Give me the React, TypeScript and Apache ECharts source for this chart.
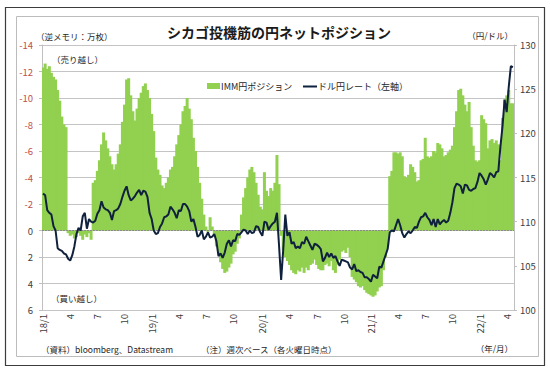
import React, { useEffect, useRef } from "react";
import * as echarts from "echarts";

// IMM yen net position (10k contracts, negative = net short), weekly (Tuesdays)
const imm2018 = [
  -12.3, -12.6, -12.2, -12.4, -11.9, -11.6, -11.4, -10.6, -9.8, -8.6, -8.0, -7.8,
  0.2, 0.4, 0.3, 0.6, 0.5, 0.2, 0.4, 0.7, 0.3, 0.5, 0.2, 0.7,
  -3.6, -3.8, -4.5, -5.3, -6.5, -7.4, -6.8, -6.2, -5.6, -5.0, -4.6, -5.0,
  -5.8, -6.5, -8.2, -9.5, -11.4, -11.5, -10.2, -9.0, -8.3, -9.2, -10.0, -10.4,
  -10.9, -11.1, -10.6, -10.0,
];
const imm2019 = [
  -8.8, -7.5, -5.5, -4.6, -4.2, -3.4, -3.2, -3.6, -4.0, -4.6, -4.8, -5.6,
  -6.5, -7.2, -8.0, -9.0, -9.4, -10.0, -9.2, -8.4, -7.0, -6.0, -4.8, -3.6,
  -2.4, -1.2, -0.3, 0.1, -1.0, -0.3, 0.4, 1.2, 1.8, 2.4, 2.9, 3.2,
  3.1, 2.8, 2.5, 1.8, 1.6, 1.0, 0.6, -1.2, -2.5, -3.2, -4.0, -4.6,
  -4.8, -4.4, -3.6, -2.7, -1.8,
];
const imm2020 = [
  -1.6, -4.4, -3.0, -2.6, -3.2, -3.0, -3.6, -5.7, -3.5, 0.4, 1.5, 2.0,
  2.3, 2.6, 3.0, 3.2, 3.3, 3.0, 3.1, 2.8, 3.2, 2.8, 3.0, 2.6,
  2.5, 2.2, 2.6, 2.9, 3.0, 3.0, 2.6, 2.5, 2.7, 2.3, 3.0, 3.2,
  2.6, 2.2, 1.6, 1.5, 1.7, 1.3, 2.0, 3.5, 3.7, 3.9, 4.2, 4.3,
  4.2, 4.5, 4.7, 4.8,
];
const imm2021 = [
  4.9, 5.0, 4.9, 4.6, 4.3, 4.2, 3.0, 2.0, 1.2, -4.1, -4.5, -5.9,
  -5.9, -5.8, -5.9, -5.6, -4.1, -4.0, -4.2, -5.0, -4.8, -4.4, -3.7, -3.8,
  -5.3, -5.4, -7.0, -5.6, -5.5, -5.6, -6.0, -5.9, -6.6, -6.5, -6.2, -5.6,
  -5.7, -5.9, -6.1, -6.4, -7.8, -9.0, -10.6, -10.7, -10.2, -9.5, -9.0, -9.7,
  -7.8, -6.4, -5.3, -5.2,
];
const imm2022 = [
  -5.3, -8.7, -8.4, -8.1, -6.2, -6.8, -6.9, -6.6, -6.8, -6.5, -5.3, -8.5,
  -9.9, -10.2, -10.6, -9.6, -9.6,
];

// USD/JPY rate (yen per dollar), weekly (Tuesdays)
const usd2018 = [
  113.2, 113.0, 111.3, 111.0, 110.8, 109.5, 109.0, 107.0, 106.8, 106.7, 106.4, 106.3,
  105.8, 105.6, 106.2, 107.2, 108.6, 109.3, 109.0, 110.6, 111.0, 109.2, 110.3, 110.0,
  109.9, 110.1, 110.9, 111.3, 112.3, 111.6, 111.4, 111.3, 111.0, 110.2, 111.2, 111.3,
  111.5, 112.0, 112.8, 113.5, 114.0, 113.0, 112.4, 112.6, 112.9, 113.3, 113.6, 113.0,
  113.5, 113.4, 112.8, 111.0,
];
const usd2019 = [
  110.3, 109.0, 108.6, 108.7, 109.4, 109.8, 110.5, 110.6, 110.8, 111.7, 111.4, 111.0,
  110.4, 111.3, 111.2, 112.0, 112.0, 111.7, 111.2, 110.0, 110.3, 109.4, 108.3, 108.5,
  109.0, 108.0, 108.3, 108.8, 108.2, 108.3, 108.6, 107.8, 106.1, 106.4, 105.9, 106.5,
  107.5, 107.9, 107.2, 107.9, 107.8, 108.6, 108.5, 108.8, 109.1, 109.0, 108.6, 109.0,
  108.7, 108.8, 109.5, 109.4, 108.8,
];
const usd2020 = [
  108.4, 110.0, 109.9, 109.1, 109.5, 109.8, 110.0, 111.0, 107.3, 103.4, 106.8, 110.8,
  108.4, 108.8, 107.5, 107.7, 107.0, 107.2, 107.0, 107.7, 107.5, 108.3, 107.8, 107.3,
  106.8, 107.5, 107.4, 107.2, 106.9, 105.5, 105.9, 106.5, 106.0, 106.4, 105.9, 106.1,
  105.5, 105.0, 105.7, 105.6, 105.5, 105.4, 104.8, 104.6, 105.2, 104.4, 104.5, 104.3,
  104.2, 103.7, 103.7, 103.5,
];
const usd2021 = [
  103.2, 104.0, 103.8, 103.6, 104.9, 104.8, 105.5, 106.2, 106.9, 108.8, 109.0, 108.9,
  109.6, 110.3, 109.6, 108.7, 108.2, 108.6, 108.9, 108.7, 109.0, 109.4, 109.3, 110.0,
  110.5, 110.6, 111.0, 110.5, 110.2, 109.6, 110.3, 109.4, 110.3, 109.7, 110.0, 110.2,
  109.9, 110.1, 111.0, 112.2, 113.8, 114.3, 114.2, 114.0, 113.2, 114.2, 114.1, 113.6,
  113.5, 113.7, 113.8, 114.5,
];
const usd2022 = [
  115.5, 115.2, 114.8, 114.2, 114.8, 115.5, 115.3, 115.0, 115.6, 115.7, 118.5, 120.8,
  123.8, 122.4, 125.3, 127.6, 127.5,
];

const immPosition = [...imm2018, ...imm2019, ...imm2020, ...imm2021, ...imm2022];
const usdJpy = [...usd2018, ...usd2019, ...usd2020, ...usd2021, ...usd2022];

const seriesNames = ["IMM円ポジション", "ドル円レート（左軸）"];

// weekly Tuesday categories starting 2018-01-02
const FIRST_WEEK = "2018-01-02";
const labelMonths = [1, 4, 7, 10];
const categories: string[] = (() => {
  const out: string[] = [];
  const start = Date.parse(FIRST_WEEK + "T00:00:00Z");
  for (let i = 0; i < immPosition.length; i++) {
    const d = new Date(start + i * 7 * 86400000);
    const y = d.getUTCFullYear();
    const m = String(d.getUTCMonth() + 1).padStart(2, "0");
    const dd = String(d.getUTCDate()).padStart(2, "0");
    out.push(`${y}-${m}-${dd}`);
  }
  return out;
})();

const FONT = '"Noto Sans CJK JP", "Noto Sans", sans-serif';
const GREEN = "#92d050";
const NAVY = "#0f213d";

export default function App() {
  const ref = useRef<HTMLDivElement>(null);
  useEffect(() => {
    if (!ref.current) return;
    const chart = echarts.init(ref.current, undefined, { renderer: "svg" });
    const txt = (
      text: string,
      x: number,
      y: number,
      size: number,
      align = "left",
      color = "#262626",
      weight = "normal"
    ) => ({
      type: "text",
      x,
      y,
      silent: true,
      style: {
        text,
        fill: color,
        fontSize: size,
        fontWeight: weight,
        fontFamily: FONT,
        textAlign: align,
        textVerticalAlign: "middle",
        align,
        verticalAlign: "middle",
      },
    });
    chart.setOption({
      animation: false,
      backgroundColor: "#ffffff",
      textStyle: { fontFamily: FONT },
      grid: { left: 42, right: 36, top: 45, bottom: 62 },
      xAxis: {
        type: "category",
        data: categories,
        boundaryGap: true,
        axisLine: { show: true, lineStyle: { color: "#bfbfbf" } },
        axisTick: { show: false },
        splitLine: { show: false },
        axisLabel: {
          rotate: 90,
          margin: 4,
          fontSize: 9.5,
          color: "#404040",
          interval: (_i: number, v: string) => {
            const m = parseInt(v.slice(5, 7), 10);
            const d = parseInt(v.slice(8, 10), 10);
            return labelMonths.includes(m) && d <= 7;
          },
          formatter: (v: string) => {
            const m = parseInt(v.slice(5, 7), 10);
            return m === 1 ? `${v.slice(2, 4)}/1` : String(m);
          },
        },
      },
      yAxis: [
        {
          type: "value",
          inverse: true,
          min: -14,
          max: 6,
          interval: 2,
          axisLine: { show: true, lineStyle: { color: "#bfbfbf" } },
          axisTick: { show: true, length: 3, lineStyle: { color: "#bfbfbf" } },
          splitLine: { show: true, lineStyle: { color: "#c4c4c4", width: 1 } },
          axisLabel: {
            margin: 9,
            fontSize: 9.5,
            color: (v: any) => (Number(v) < 0 ? "#c0504d" : "#404040"),
          },
        },
        {
          type: "value",
          position: "right",
          min: 100,
          max: 130,
          interval: 5,
          axisLine: { show: true, lineStyle: { color: "#bfbfbf" } },
          axisTick: { show: true, length: 3, lineStyle: { color: "#bfbfbf" } },
          splitLine: { show: false },
          axisLabel: { margin: 6, fontSize: 9.5, color: "#404040" },
        },
      ],
      series: [
        {
          name: seriesNames[0],
          type: "bar",
          yAxisIndex: 0,
          data: immPosition,
          barWidth: 3,
          itemStyle: { color: GREEN },
          markLine: {
            silent: true,
            symbol: "none",
            label: { show: false },
            lineStyle: { color: "#8a8a8a", width: 1, type: [2, 1] },
            data: [{ yAxis: 0 }],
          },
        },
        {
          name: seriesNames[1],
          type: "line",
          yAxisIndex: 1,
          data: usdJpy,
          showSymbol: false,
          symbol: "none",
          z: 5,
          lineStyle: { color: NAVY, width: 2 },
          itemStyle: { color: NAVY },
        },
      ],
      graphic: [
        {
          type: "rect",
          silent: true,
          shape: { x: 5.5, y: 7.5, width: 539, height: 358 },
          style: { fill: "none", stroke: "#3c3c3c", lineWidth: 1.2 },
        },
        {
          type: "rect",
          silent: true,
          shape: { x: 16.5, y: 16.5, width: 522, height: 340 },
          style: { fill: "none", stroke: "#bcbcbc", lineWidth: 1 },
        },
        // legend
        {
          type: "rect",
          silent: true,
          shape: { x: 207, y: 83, width: 13, height: 6 },
          style: { fill: GREEN },
        },
        txt(seriesNames[0], 221, 86.5, 9),
        {
          type: "line",
          silent: true,
          shape: { x1: 303, y1: 86.5, x2: 317, y2: 86.5 },
          style: { stroke: NAVY, lineWidth: 2 },
        },
        txt(seriesNames[1], 318, 86.5, 9),
        txt("シカゴ投機筋の円ネットポジション", 279, 32, 14, "center", "#1a1a1a", "bold"),
        txt("（逆メモリ：万枚）", 36, 36, 8.5),
        txt("（円/ドル）", 513, 35, 8.5, "right"),
        txt("（売り越し）", 52, 59, 8.5),
        txt("（買い越し）", 51, 298, 8.5),
        txt("（資料）bloomberg、Datastream", 41, 349, 8.5),
        txt("（注）週次ベース（各火曜日時点）", 201, 349, 8.5),
        txt("（年/月）", 513, 348, 8.5, "right"),
      ],
    });
    return () => chart.dispose();
  }, []);
  return (
    <div
      ref={ref}
      style={{ position: "fixed", left: 0, top: 0, width: 550, height: 372, background: "#fff" }}
    />
  );
}
